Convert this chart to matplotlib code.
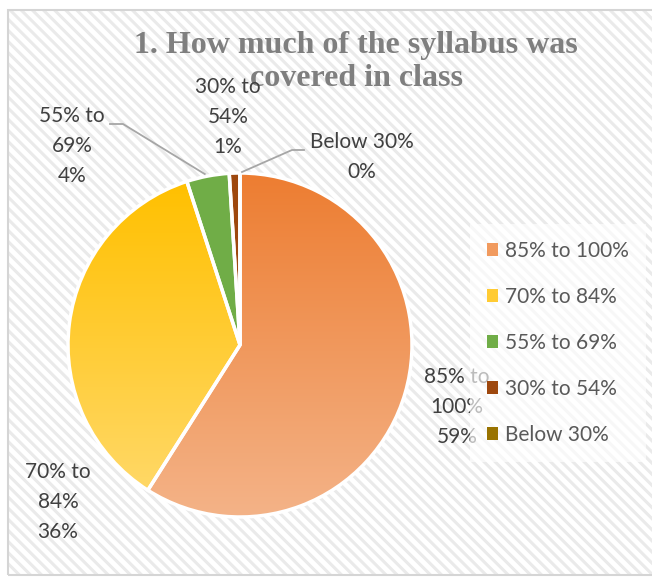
import matplotlib.pyplot as plt
import numpy as np
from matplotlib.colors import LinearSegmentedColormap
from matplotlib.patches import Patch, Rectangle

categories = ["85% to 100%", "70% to 84%", "55% to 69%", "30% to 54%", "Below 30%"]
shares = [59, 36, 4, 1, 0]
label_texts = ["85% to\n100%\n59%", "70% to\n84%\n36%", "55% to\n69%\n4%",
               "30% to\n54%\n1%", "Below 30%\n0%"]

TOP_COLORS = ["#ED7D31", "#FFC000", "#70AD47", "#9E480E", "#997300"]
BOTTOM_COLORS = ["#F4B388", "#FFD866", "#70AD47", "#9E480E", "#997300"]
TEXT = "#404040"
LINE = "#A6A6A6"
FONT = "Lato"

plt.rcParams["hatch.linewidth"] = 2.2

W, H = 652, 578
fig = plt.figure(figsize=(W / 100, H / 100), dpi=100)
ax = fig.add_axes([0, 0, 1, 1])

# chart area: hatched background + light border
bg = Rectangle((8, 3), W, H - 13, facecolor="white", edgecolor="#EAEAEA",
               hatch="\\\\\\", linewidth=0, zorder=0)
ax.add_patch(bg)
ax.add_patch(Rectangle((8, 3), W, H - 13, facecolor="none", edgecolor="#D5D5D5",
                       linewidth=1.5, zorder=0.5))

cx, cy, r = 240, H - 345, 172
wedges, _ = ax.pie(shares, center=(cx, cy), radius=r, startangle=90,
                   counterclock=False, colors=TOP_COLORS, frame=True,
                   wedgeprops=dict(linewidth=0))

# vertical gradients inside the big slices
for w, c_top, c_bot in zip(wedges, TOP_COLORS, BOTTOM_COLORS):
    if c_top == c_bot:
        continue
    ext = w.get_path().get_extents()
    cmap = LinearSegmentedColormap.from_list("g", [c_bot, c_top])
    grad = np.linspace(0, 1, 256).reshape(-1, 1)
    im = ax.imshow(grad, cmap=cmap, origin="lower", aspect="auto",
                   extent=(ext.x0, ext.x1, ext.y0, ext.y1), zorder=1.5)
    im.set_clip_path(w)

# white slice outlines on top
ax.pie(shares, center=(cx, cy), radius=r, startangle=90, counterclock=False,
       colors=["none"] * len(shares), frame=True,
       wedgeprops=dict(linewidth=2.5, edgecolor="white", zorder=3))
ax.set_xlim(0, W)
ax.set_ylim(0, H)
ax.set_aspect("equal")
ax.axis("off")

# data labels
label_pos = [(457, H - 407), (58, H - 502), (72, H - 146), (228, H - 117), (362, H - 157)]
for txt, (x, y) in zip(label_texts, label_pos):
    ax.text(x, y, txt, ha="center", va="center", fontsize=15, color=TEXT,
            family=FONT, linespacing=1.62, zorder=4)

# leader lines to the thin slices
def edge_point(w):
    mid = np.deg2rad((w.theta1 + w.theta2) / 2)
    return cx + r * np.cos(mid), cy + r * np.sin(mid)

gx, gy = edge_point(wedges[2])
ax.plot([110, 123, gx - 3], [H - 124, H - 124, gy + 2], color=LINE, lw=1.3, zorder=4)
bx, by = edge_point(wedges[4])
ax.plot([304, 292, bx + 2], [H - 150, H - 150, by + 1], color=LINE, lw=1.3, zorder=4)

# title
ax.text(356, H - 62, "1. How much of the syllabus was\ncovered in class",
        ha="center", va="center", fontsize=23, fontweight="bold",
        family="Liberation Serif", color="#7F7F7F", linespacing=1.2, zorder=2)

# legend
handles = [Patch(facecolor=c, edgecolor="none", label=cat)
           for c, cat in zip(["#F19A5E", "#FFCB33"] + TOP_COLORS[2:], categories)]
leg = ax.legend(handles=handles, loc="center left", bbox_to_anchor=(470 / W, 1 - 343 / H),
                frameon=True, handlelength=0.55, handleheight=0.55,
                handletextpad=0.35, labelspacing=1.25, borderpad=0.8,
                borderaxespad=0, prop=dict(family=FONT, size=15))
leg.get_frame().set_facecolor("white")
leg.get_frame().set_alpha(0.65)
leg.get_frame().set_edgecolor("none")
leg.get_frame().set_boxstyle("square", pad=0)
leg.set_zorder(5)
for t in leg.get_texts():
    t.set_color("#595959")

fig.savefig("out.png", dpi=100)
